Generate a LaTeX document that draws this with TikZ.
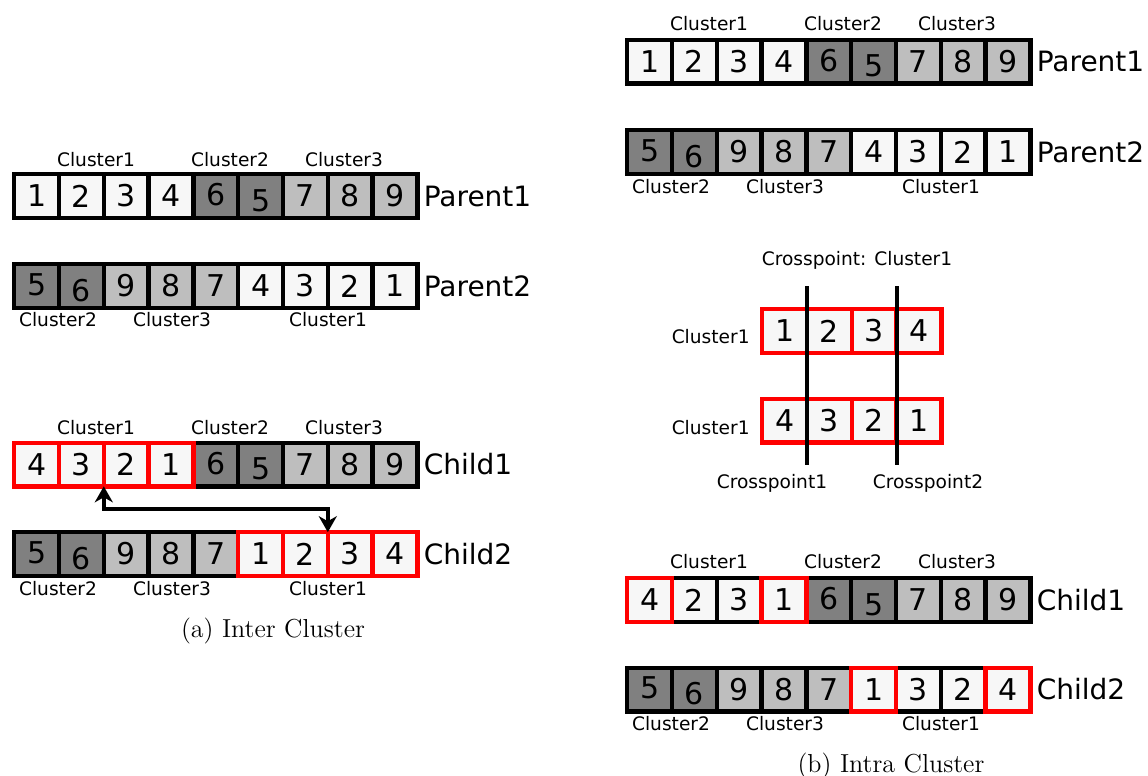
\documentclass[tikz,border=0pt]{standalone}
\usepackage{fontspec}
\usetikzlibrary{positioning,arrows.meta}
\newfontfamily\dejavu{DejaVu Sans}
\definecolor{lightgene}{HTML}{F7F7F7}
\definecolor{darkgene}{HTML}{808080}
\definecolor{midgene}{HTML}{BEBEBE}
\tikzset{
  genebox/.style={draw, line width=2.2pt, outer sep=0pt, inner sep=0pt, minimum width=22.4pt, minimum height=21.8pt, font=\dejavu\fontsize{15}{18}\selectfont},
  wgene/.style={genebox, fill=lightgene},
  dgene/.style={genebox, fill=darkgene},
  mgene/.style={genebox, fill=midgene},
  rgene/.style={genebox, fill=lightgene, draw=red},
  lift/.style={text depth=1.5pt},
  sunk/.style={text height=15.4pt},
  clab/.style={font=\dejavu\fontsize{9.3}{11}\selectfont, inner sep=0pt},
  rowlab/.style={font=\dejavu\fontsize{14}{16}\selectfont, inner sep=0pt, anchor=west},
  cutline/.style={line width=2pt},
  swaparrow/.style={{Stealth[length=8pt,width=9pt,inset=2.5pt]}-{Stealth[length=8pt,width=9pt,inset=2.5pt]}, line width=2pt},
  subcap/.style={font=\fontsize{13}{15}\selectfont, inner sep=0pt, anchor=base}
}

\begin{document}
\begin{tikzpicture}[x=0.5pt, y=-0.5pt]
  \useasboundingbox (0,0) rectangle (1148,776);

  % (a) inter cluster: parents
  \node[clab] (ip1-c1) at (96,160) {Cluster1};
  \node[clab] (ip1-c2) at (230,160) {Cluster2};
  \node[clab] (ip1-c3) at (344,160) {Cluster3};
  \node[wgene] (ip1-1) at (36.6,196) {1};
  \node[wgene] (ip1-2) at (81.4,196) {2};
  \node[wgene] (ip1-3) at (126.2,196) {3};
  \node[wgene] (ip1-4) at (171.0,196) {4};
  \node[dgene, lift] (ip1-5) at (215.8,196) {6};
  \node[dgene, sunk] (ip1-6) at (260.6,196) {5};
  \node[mgene] (ip1-7) at (305.4,196) {7};
  \node[mgene] (ip1-8) at (350.2,196) {8};
  \node[mgene] (ip1-9) at (395.0,196) {9};
  \node[rowlab, right=3pt of ip1-9] (ip1-lab) {Parent1};

  \node[dgene, lift] (ip2-1) at (36.6,286) {5};
  \node[dgene, sunk] (ip2-2) at (81.4,286) {6};
  \node[mgene] (ip2-3) at (126.2,286) {9};
  \node[mgene] (ip2-4) at (171.0,286) {8};
  \node[mgene] (ip2-5) at (215.8,286) {7};
  \node[wgene] (ip2-6) at (260.6,286) {4};
  \node[wgene] (ip2-7) at (305.4,286) {3};
  \node[wgene] (ip2-8) at (350.2,286) {2};
  \node[wgene] (ip2-9) at (395.0,286) {1};
  \node[rowlab, right=3pt of ip2-9] (ip2-lab) {Parent2};
  \node[clab] (ip2-c2) at (58,320) {Cluster2};
  \node[clab] (ip2-c3) at (172,320) {Cluster3};
  \node[clab] (ip2-c1) at (328,320) {Cluster1};

  % (a) inter cluster: children
  \node[clab] (ic1-c1) at (96,428) {Cluster1};
  \node[clab] (ic1-c2) at (230,428) {Cluster2};
  \node[clab] (ic1-c3) at (344,428) {Cluster3};
  \node[dgene, lift] (ic1-5) at (215.8,464.5) {6};
  \node[dgene, sunk] (ic1-6) at (260.6,464.5) {5};
  \node[mgene] (ic1-7) at (305.4,464.5) {7};
  \node[mgene] (ic1-8) at (350.2,464.5) {8};
  \node[mgene] (ic1-9) at (395.0,464.5) {9};
  \node[rgene] (ic1-1) at (36.6,464.5) {4};
  \node[rgene] (ic1-2) at (81.4,464.5) {3};
  \node[rgene] (ic1-3) at (126.2,464.5) {2};
  \node[rgene] (ic1-4) at (171.0,464.5) {1};
  \node[rowlab, right=3pt of ic1-9] (ic1-lab) {Child1};

  \node[dgene, lift] (ic2-1) at (36.6,554) {5};
  \node[dgene, sunk] (ic2-2) at (81.4,554) {6};
  \node[mgene] (ic2-3) at (126.2,554) {9};
  \node[mgene] (ic2-4) at (171.0,554) {8};
  \node[mgene] (ic2-5) at (215.8,554) {7};
  \node[rgene] (ic2-6) at (260.6,554) {1};
  \node[rgene] (ic2-7) at (305.4,554) {2};
  \node[rgene] (ic2-8) at (350.2,554) {3};
  \node[rgene] (ic2-9) at (395.0,554) {4};
  \node[rowlab, right=3pt of ic2-9] (ic2-lab) {Child2};
  \node[clab] (ic2-c2) at (58,589) {Cluster2};
  \node[clab] (ic2-c3) at (172,589) {Cluster3};
  \node[clab] (ic2-c1) at (328,589) {Cluster1};

  \coordinate (swapmid) at (0,509);
  \draw[swaparrow] (ic1-3.south west) |- (swapmid -| ic2-8.north west) -- (ic2-8.north west);

  \node[subcap] (capa) at (273,637) {(a) Inter Cluster};

  % (b) intra cluster: parents
  \node[clab] (rp1-c1) at (709,24) {Cluster1};
  \node[clab] (rp1-c2) at (843,24) {Cluster2};
  \node[clab] (rp1-c3) at (957,24) {Cluster3};
  \node[wgene] (rp1-1) at (649.6,61.7) {1};
  \node[wgene] (rp1-2) at (694.4,61.7) {2};
  \node[wgene] (rp1-3) at (739.2,61.7) {3};
  \node[wgene] (rp1-4) at (784.0,61.7) {4};
  \node[dgene, lift] (rp1-5) at (828.8,61.7) {6};
  \node[dgene, sunk] (rp1-6) at (873.6,61.7) {5};
  \node[mgene] (rp1-7) at (918.4,61.7) {7};
  \node[mgene] (rp1-8) at (963.2,61.7) {8};
  \node[mgene] (rp1-9) at (1008.0,61.7) {9};
  \node[rowlab, right=3pt of rp1-9] (rp1-lab) {Parent1};

  \node[dgene, lift] (rp2-1) at (649.6,152) {5};
  \node[dgene, sunk] (rp2-2) at (694.4,152) {6};
  \node[mgene] (rp2-3) at (739.2,152) {9};
  \node[mgene] (rp2-4) at (784.0,152) {8};
  \node[mgene] (rp2-5) at (828.8,152) {7};
  \node[wgene] (rp2-6) at (873.6,152) {4};
  \node[wgene] (rp2-7) at (918.4,152) {3};
  \node[wgene] (rp2-8) at (963.2,152) {2};
  \node[wgene] (rp2-9) at (1008.0,152) {1};
  \node[rowlab, right=3pt of rp2-9] (rp2-lab) {Parent2};
  \node[clab] (rp2-c2) at (671,187) {Cluster2};
  \node[clab] (rp2-c3) at (785,187) {Cluster3};
  \node[clab] (rp2-c1) at (941,187) {Cluster1};

  % (b) crosspoints inside cluster 1
  \node[clab, anchor=base] (xtitle) at (857,265) {Crosspoint: Cluster1};
  \node[rgene] (xa-1) at (784.6,331) {1};
  \node[rgene] (xa-2) at (829.4,331) {2};
  \node[rgene] (xa-3) at (874.2,331) {3};
  \node[rgene] (xa-4) at (919.0,331) {4};
  \node[clab, anchor=east] (xa-lab) at (750,337) {Cluster1};
  \node[rgene] (xb-1) at (784.6,420.5) {4};
  \node[rgene] (xb-2) at (829.4,420.5) {3};
  \node[rgene] (xb-3) at (874.2,420.5) {2};
  \node[rgene] (xb-4) at (919.0,420.5) {1};
  \node[clab, anchor=east] (xb-lab) at (750,428) {Cluster1};
  \coordinate (cuttop) at (0,286);
  \coordinate (cutbot) at (0,465);
  \draw[cutline] (xa-1.east |- cuttop) -- (xa-1.east |- cutbot);
  \draw[cutline] (xa-3.east |- cuttop) -- (xa-3.east |- cutbot);
  \node[clab, anchor=base] (xcut1) at (772,488) {Crosspoint1};
  \node[clab, anchor=base] (xcut2) at (928,488) {Crosspoint2};

  % (b) intra cluster: children
  \node[clab] (rc1-c1) at (709,562) {Cluster1};
  \node[clab] (rc1-c2) at (843,562) {Cluster2};
  \node[clab] (rc1-c3) at (957,562) {Cluster3};
  \node[wgene] (rc1-2) at (694.4,600) {2};
  \node[wgene] (rc1-3) at (739.2,600) {3};
  \node[dgene, lift] (rc1-5) at (828.8,600) {6};
  \node[dgene, sunk] (rc1-6) at (873.6,600) {5};
  \node[mgene] (rc1-7) at (918.4,600) {7};
  \node[mgene] (rc1-8) at (963.2,600) {8};
  \node[mgene] (rc1-9) at (1008.0,600) {9};
  \node[rgene] (rc1-1) at (649.6,600) {4};
  \node[rgene] (rc1-4) at (784.0,600) {1};
  \node[rowlab, right=3pt of rc1-9] (rc1-lab) {Child1};

  \node[dgene, lift] (rc2-1) at (649.6,689.5) {5};
  \node[dgene, sunk] (rc2-2) at (694.4,689.5) {6};
  \node[mgene] (rc2-3) at (739.2,689.5) {9};
  \node[mgene] (rc2-4) at (784.0,689.5) {8};
  \node[mgene] (rc2-5) at (828.8,689.5) {7};
  \node[wgene] (rc2-7) at (918.4,689.5) {3};
  \node[wgene] (rc2-8) at (963.2,689.5) {2};
  \node[rgene] (rc2-6) at (873.6,689.5) {1};
  \node[rgene] (rc2-9) at (1008.0,689.5) {4};
  \node[rowlab, right=3pt of rc2-9] (rc2-lab) {Child2};
  \node[clab] (rc2-c2) at (671,724) {Cluster2};
  \node[clab] (rc2-c3) at (785,724) {Cluster3};
  \node[clab] (rc2-c1) at (941,724) {Cluster1};

  \node[subcap] (capb) at (891,772) {(b) Intra Cluster};
\end{tikzpicture}
\end{document}
